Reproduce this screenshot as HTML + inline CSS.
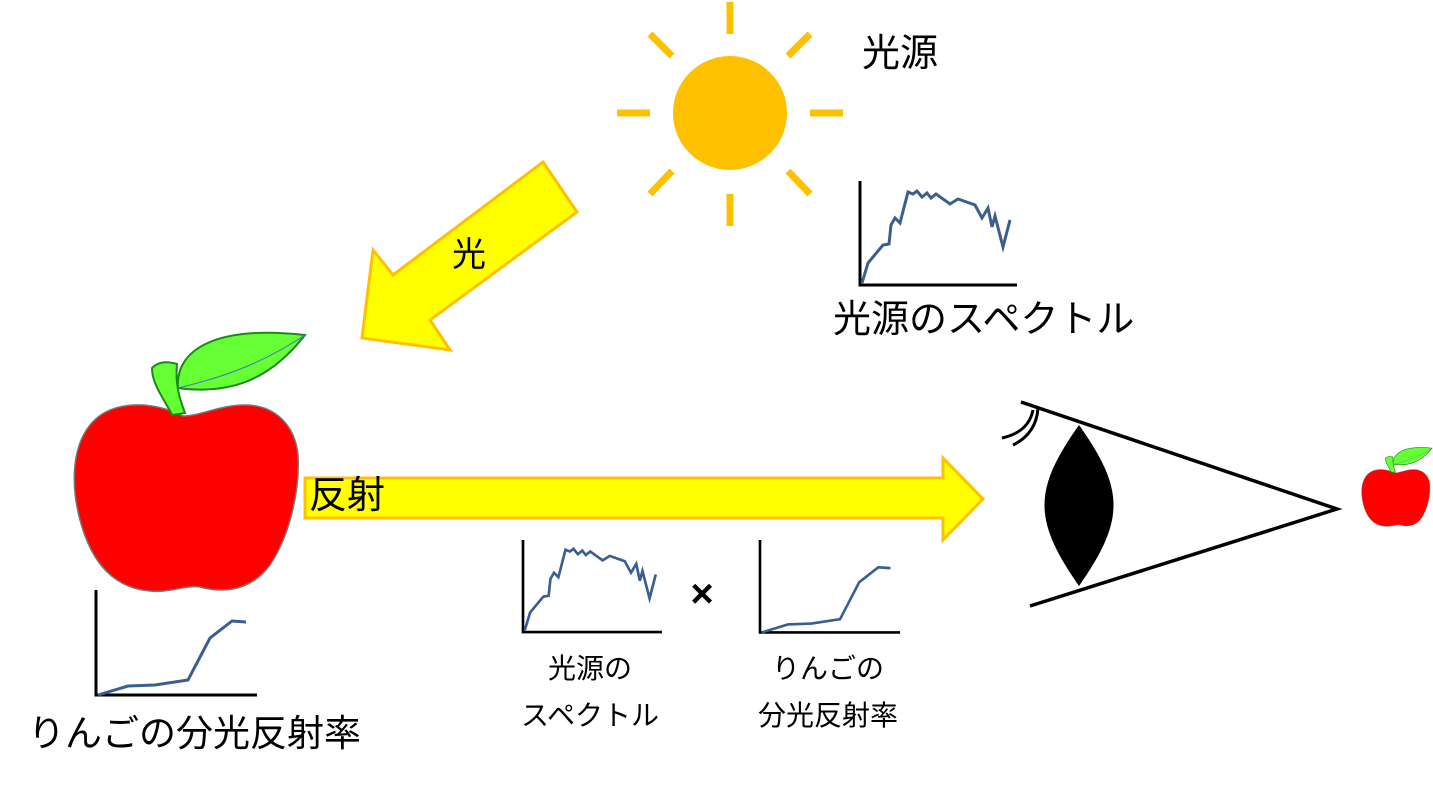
<!DOCTYPE html>
<html><head><meta charset="utf-8"><style>
html,body{margin:0;padding:0;background:#fff}
svg text{font-family:"Liberation Sans","Noto Sans CJK JP",sans-serif;fill:#000}
</style></head><body>
<svg width="1433" height="783" viewBox="0 0 1433 783" xmlns="http://www.w3.org/2000/svg">
<defs>
<g id="apple">
<path d="M183,416 C150,400 110,400 90,425 C70,450 72,490 80,520 C92,565 115,588 150,591 C170,593 185,585 200,587 C222,593 250,592 270,565 C290,535 300,490 298,455 C295,425 275,405 245,405 C220,405 200,416 183,416Z" fill="#ff0000" stroke="#777" stroke-width="1.5"/>
<path d="M172,415 C165,400 152,385 152,368 C160,360 170,362 177,364 C175,385 180,400 185,413Z" fill="#66ff33" stroke="#1a8a1a" stroke-width="2"/>
<path d="M178,388 C175,350 215,325 305,335 C270,380 230,395 178,388Z" fill="#66ff33" stroke="#1a8a1a" stroke-width="2"/>
<path d="M178,388 C220,378 260,365 305,335" fill="none" stroke="#4472c4" stroke-width="1"/>
</g>
<g id="spec">
<path d="M860,181 V285 H1017" fill="none" stroke="#000" stroke-width="3"/>
<polyline points="862,283 868,263 883,245 889,244 891,225 895,218 900,223 908,192 913,194 917,191 922,197 927,193 931,198 936,194 950,204 958,199 975,205 982,218 988,208 992,227 995,216 1003,247 1010,220" fill="none" stroke="#3a5f8f" stroke-width="3"/>
</g>
<g id="refl">
<path d="M96,590 V695 H257" fill="none" stroke="#000" stroke-width="3"/>
<polyline points="98,695 128,686 155,685 188,680 210,638 232,621 246,622" fill="none" stroke="#3a5f8f" stroke-width="3"/>
</g>
</defs>

<circle cx="730" cy="113" r="57" fill="#ffc000"/>
<g stroke="#ffc000" stroke-width="7">
<line x1="730" y1="2" x2="730" y2="34"/>
<line x1="730" y1="194" x2="730" y2="226"/>
<line x1="617" y1="113" x2="650" y2="113"/>
<line x1="810" y1="113" x2="843" y2="113"/>
<line x1="650" y1="34" x2="672" y2="56"/>
<line x1="810" y1="34" x2="788" y2="56"/>
<line x1="650" y1="194" x2="672" y2="171"/>
<line x1="810" y1="194" x2="788" y2="171"/>
</g>
<text x="862" y="66" font-size="38">光源</text>

<use href="#spec"/>
<text x="833" y="332" font-size="38">光源のスペクトル</text>

<polygon points="543,162 577,212 430,320 450,350 362,338 373,250 393,275" fill="#ffff00" stroke="#ffc000" stroke-width="3"/>
<text x="452" y="266" font-size="34">光</text>

<use href="#apple"/>
<use href="#apple" transform="translate(1339,346) scale(0.305)"/>

<polygon points="305,478 943,478 943,458 983,499 943,540 943,518 305,518" fill="#ffff00" stroke="#ffc000" stroke-width="3"/>
<text x="309" y="508" font-size="38">反射</text>

<use href="#refl"/>
<text x="28" y="746" font-size="37">りんごの分光反射率</text>

<use href="#spec" transform="translate(523,540) scale(0.885) translate(-860,-181)"/>
<use href="#refl" transform="translate(760,540) scale(0.87,0.88) translate(-96,-590)"/>
<text x="702" y="607" font-size="40" font-weight="bold" text-anchor="middle">×</text>
<text x="590" y="678" font-size="28" text-anchor="middle">光源の</text>
<text x="590" y="725" font-size="28" text-anchor="middle">スペクトル</text>
<text x="828" y="678" font-size="28" text-anchor="middle">りんごの</text>
<text x="828" y="725" font-size="28" text-anchor="middle">分光反射率</text>

<polyline points="1021,402 1337,509 1030,606" fill="none" stroke="#000" stroke-width="3.5"/>
<path d="M1079,425 C1125,490 1125,520 1079,586 C1033,520 1033,490 1079,425Z" fill="#000"/>
<path d="M1033,410 C1030,425 1020,434 1002,438" fill="none" stroke="#000" stroke-width="3"/>
<path d="M1038,408 C1037,425 1028,438 1013,445" fill="none" stroke="#000" stroke-width="3"/>
</svg>
</body></html>
